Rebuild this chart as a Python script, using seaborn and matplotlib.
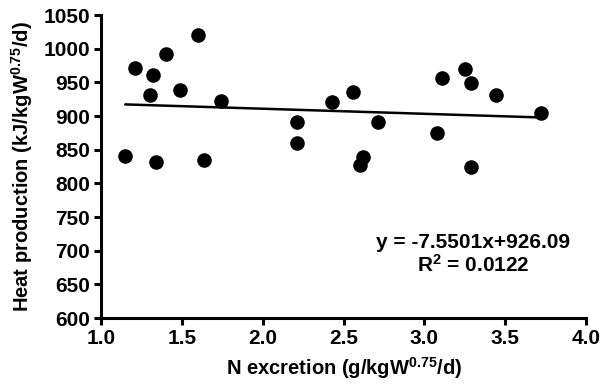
import numpy as np
import pandas as pd
import seaborn as sns
import matplotlib
matplotlib.use("Agg")
import matplotlib.pyplot as plt

# N excretion (g/kgW^0.75/d) vs heat production (kJ/kgW^0.75/d)
n_excretion = [1.15, 1.21, 1.30, 1.32, 1.34, 1.40, 1.49, 1.60, 1.64, 1.74,
               2.21, 2.21, 2.43, 2.56, 2.62, 2.60, 2.71,
               3.08, 3.11, 3.25, 3.29, 3.29, 3.44, 3.72]
heat_prod = [840, 972, 931, 961, 832, 992, 939, 1020, 835, 922,
             860, 891, 921, 936, 839, 827, 892,
             875, 956, 970, 949, 824, 931, 904]

slope = -7.5501
intercept = 926.09
r2 = 0.0122

x_ticks = [1.0, 1.5, 2.0, 2.5, 3.0, 3.5, 4.0]
y_ticks = list(range(600, 1051, 50))

df = pd.DataFrame({"x": n_excretion, "y": heat_prod})

sns.set_style("ticks", {"axes.edgecolor": "black", "text.color": "black",
                        "axes.labelcolor": "black", "xtick.color": "black",
                        "ytick.color": "black"})
plt.rcParams["font.family"] = ["Liberation Sans", "DejaVu Sans"]
plt.rcParams["font.weight"] = "bold"
plt.rcParams["axes.labelweight"] = "bold"
plt.rcParams["mathtext.fontset"] = "custom"
plt.rcParams["mathtext.rm"] = "Liberation Sans:bold"
plt.rcParams["mathtext.it"] = "Liberation Sans:bold"
plt.rcParams["mathtext.bf"] = "Liberation Sans:bold"

fig = plt.figure(figsize=(6.03, 3.89), dpi=100)
ax = fig.add_axes([0.1675, 0.1825, 0.8045, 0.7785])

sns.scatterplot(data=df, x="x", y="y", ax=ax, color="black", s=110,
                edgecolor="black", linewidth=0, zorder=3)

# fitted line over the data range
fit_x = np.array([min(n_excretion), max(n_excretion)])
fit = pd.DataFrame({"x": fit_x, "y": slope * fit_x + intercept})
sns.lineplot(data=fit, x="x", y="y", ax=ax, color="black", linewidth=1.8)

ax.set_xlim(1.0, 4.0)
ax.set_ylim(600, 1050)
ax.set_xticks(x_ticks)
ax.set_yticks(y_ticks)
ax.set_xticklabels([f"{t:.1f}" for t in x_ticks])
ax.tick_params(axis="both", labelsize=15, width=2.2, length=5, direction="out",
               pad=3, colors="black")
for side in ["left", "bottom"]:
    ax.spines[side].set_linewidth(2.2)
    ax.spines[side].set_color("black")
sns.despine(ax=ax)

ax.set_xlabel(r"N excretion (g/kgW$^{0.75}$/d)", fontsize=14.5, labelpad=5,
              fontweight="bold", color="black")
ax.set_ylabel(r"Heat production (kJ/kgW$^{0.75}$/d)", fontsize=14.5, labelpad=6,
              fontweight="bold", color="black")

ax.text(0.767, 0.21, f"y = {slope}x+{intercept}\nR$^{{2}}$ = {r2}",
        transform=ax.transAxes, ha="center", va="center", fontsize=15,
        linespacing=1.1, color="black")

fig.savefig("out.png", dpi=100)
